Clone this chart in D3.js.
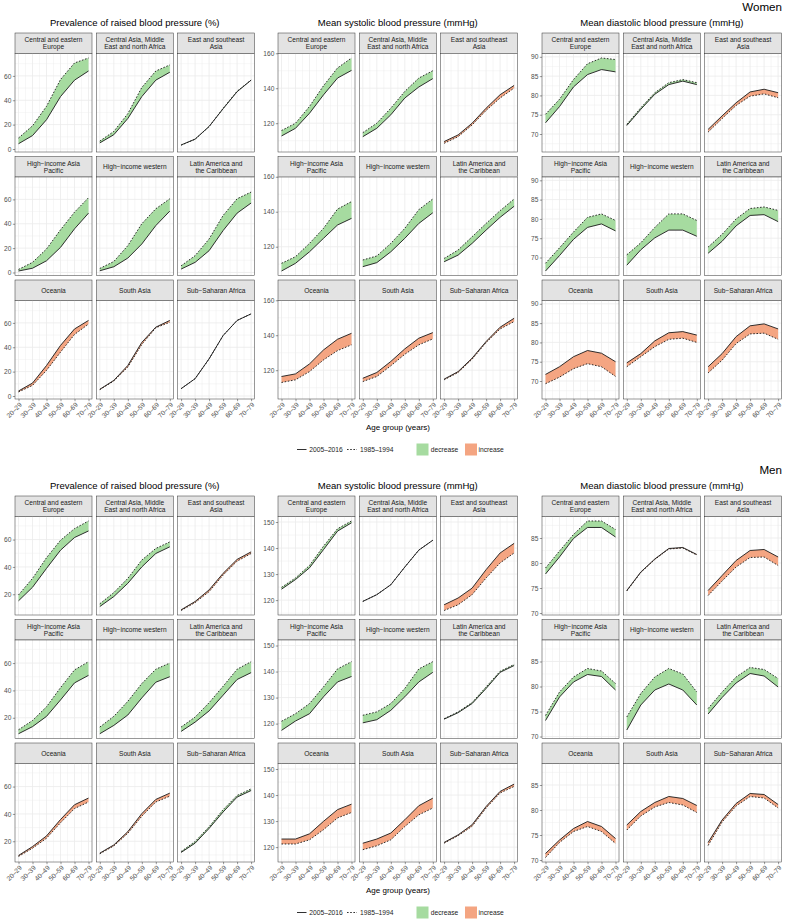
<!DOCTYPE html>
<html><head><meta charset="utf-8">
<script src="https://cdn.jsdelivr.net/npm/d3@7"></script>
<style>body{margin:0;background:#fff;} svg{display:block;font-family:"Liberation Sans",Arial,sans-serif;}</style>
</head><body><svg id="c" width="786" height="921"></svg>
<script>
const ageGroups = ["20–29","30–39","40–49","50–59","60–69","70–79"];
const regionLabels = [
  ["Central and eastern","Europe"],["Central Asia, Middle","East and north Africa"],["East and southeast","Asia"],
  ["High−income Asia","Pacific"],["High−income western"],["Latin America and","the Caribbean"],
  ["Oceania"],["South Asia"],["Sub−Saharan Africa"]];
const periodLabels = ["2005–2016","1985–1994"];
const changeLabels = ["decrease","increase"];
const measureTitles = ["Prevalence of raised blood pressure (%)","Mean systolic blood pressure (mmHg)","Mean diastolic blood pressure (mmHg)"];
const sexLabels = ["Women","Men"];

// Women
const womenPrevTicks = [0,20,40,60];
const womenPrevRecent = [
 [4.3,11,24,43,56.5,64],[5,11.7,25,43,56.5,63],[3.3,8.1,18.5,33,47,56.5],
 [1.2,3.5,9.6,20.6,35.8,48.7],[1.4,4.7,11.8,23.4,38.5,50.4],[2.8,8.3,17.9,34.4,48.7,57],
 [4.1,10.6,25,41.5,55,62],[5.5,12.8,25,44,56.5,62],[6,14.2,30.5,49.6,62,67.4]];
const womenPrevPast = [
 [9,19,35,57,70.6,74.7],[6.5,14.4,29,50.5,64,69],[3.1,8.0,18.3,33.4,47.4,56.6],
 [2.5,8.3,19.3,35,49.5,61.4],[3.3,9,22,40,52.3,60.5],[5.5,13.8,27.5,46.8,60.5,66],
 [3.3,8.7,21,36,50.5,59],[5.2,12.3,23.7,42.3,56,60.5],[6,14.2,30.5,49.6,62,67.4]];
const womenSysTicks = [120,140,160];
const womenSysRecent = [
 [112.7,117.1,125.7,136.2,145.8,150.2],[112.3,117.1,124.8,134.4,140.7,145.5],[109.5,113.3,120,128.6,136.3,141.6],
 [106.1,110.5,117.1,124.8,132.4,136.2],[108.6,110.9,117.1,124.8,133.3,139.4],[111.4,115.2,121.9,129.5,136.8,143.1],
 [116.4,117.9,123.6,131.6,137.7,141.1],[115.4,118.7,125,132.2,138.3,141.5],[114.9,119.2,126.9,136.4,144.6,149.7]];
const womenSysPast = [
 [115.8,120,129.6,141.4,151.6,157.3],[114.6,120,128.6,138.2,145.8,150],[108.5,112.3,119,127.3,134.4,140.1],
 [110.5,114.3,121.9,130.5,141.5,145.8],[112.4,114.7,121.9,130.5,141.2,147.3],[113.3,118.1,125.7,133.3,140.6,147.3],
 [113,114.5,119.2,125.9,131.2,134.5],[113.5,116.4,122.5,129.1,134.5,137.9],[114.5,118.7,126.3,135.8,143.6,147.8]];
const womenDiaTicks = [70,75,80,85,90];
const womenDiaRecent = [
 [72.9,77.1,82.2,85.4,86.7,86.1],[72.2,76.4,80.3,82.8,83.7,82.8],[71.2,74.7,78.1,80.9,81.6,80.7],
 [66.5,70.5,74.7,77.8,78.7,76.9],[68,72,75.1,77.1,77.1,75.5],[71.1,74.2,78.2,80.9,81.1,79.3],
 [71.7,73.7,76.3,77.9,77.2,75],[74.7,77.1,80.4,82.5,82.8,81.9],[73.7,77.1,81.5,84.3,84.8,83.5]];
const womenDiaPast = [
 [75.1,79,84.1,88.2,89.7,89.3],[72.5,76.8,80.7,83.3,84.1,83.3],[70.5,74,77.4,79.8,80.4,79.4],
 [68.5,72.5,76.6,80.4,81.3,79.6],[70.7,73.8,77.8,81.3,81.3,79.6],[72.7,76,80,82.7,83.1,82.2],
 [69.3,71,73.2,74.5,73.7,71.2],[73.7,76.3,78.9,80.8,81.1,80],[72.1,75.4,79.7,82.2,82.4,80.8]];

// Men
const menPrevTicks = [20,40,60];
const menPrevRecent = [
 [15.2,25.1,38.9,52.2,61.5,66.3],[11,18.3,28,40,49.8,54.7],[8.6,14.7,23.2,35.3,45.5,51],
 [8.3,13.5,21,33,45.5,51],[8.3,14.4,22,34.5,46,50],[10,16.8,25,36.5,48,53],
 [9.6,16.1,23.9,35.9,46.7,51.6],[11.3,17.3,27,40.2,50.6,55.2],[11.8,18.6,29.4,41.4,52.3,57.1]];
const menPrevPast = [
 [19.5,31.6,46.7,59.5,68,73.6],[13,21.2,31.6,45,53.5,58.3],[8.1,13.9,21.9,34,44.2,49.8],
 [11.2,18,28,42,55,61],[13.2,21,32,45,55.5,60],[13.2,20.5,31,43,55.5,61],
 [8.9,14.9,22.2,33.5,43.9,48.7],[10.8,16.6,25.8,38.3,48.7,53],[12.5,19.8,30.6,43.1,53.5,58.3]];
const menSysTicks = [120,130,140,150];
const menSysRecent = [
 [124.2,127.9,132.4,139.4,146.5,149.7],[119.5,122.1,125.9,132.7,139.2,143],[118.2,120.8,124.6,131.7,138.1,141.8],
 [117.4,121,123.8,130.3,136,138.1],[120.3,121.5,125.1,130.3,136,139.7],[121.7,124.2,127.7,133.5,139.7,142.3],
 [123.1,123.1,125.1,129.9,134.4,136.5],[121.5,123.1,125.4,130.5,135.9,138.8],[121.8,124.7,128.6,135.6,141.4,144.2]];
const menSysPast = [
 [124.9,128.5,133.3,140.7,147.4,150.4],[119.5,122.1,125.9,132.7,139.2,143],[116,118.2,122.1,128.5,134.3,138.1],
 [120.9,123.8,127.7,134.1,141,143.8],[123.2,124.5,127.7,133.5,141,143.8],[121.9,124.5,128.1,134.1,140.1,142.7],
 [121.2,121.2,122.8,126.7,131.2,133.3],[119,120.5,122.8,127.9,132.4,135],[121.5,124.4,128,135,140.8,143.3]];
const menDiaTicks = [70,75,80,85];
const menDiaRecent = [
 [77.8,81.2,84.9,87.1,87.1,85.2],[74.5,78.2,80.8,82.9,83.1,81.7],[74.5,77.5,80.5,82.5,82.7,81.2],
 [73.2,77.9,80.9,82.4,82,79.3],[71.3,76.3,79.3,80.5,79.3,76.3],[74.5,77.8,80.7,82.6,82.1,79.9],
 [71.3,74,76.3,77.7,76.7,74.3],[77,79.7,81.5,82.7,82.3,80.9],[73.5,78,81.3,83.3,83.1,81.1]];
const menDiaPast = [
 [79,82.4,85.7,88.4,88.4,86.7],[74.4,78.1,80.7,82.8,83,81.6],[73.5,76.4,79.2,81.1,81.2,79.5],
 [74.2,78.9,81.9,83.6,83.1,80.6],[73.9,78.6,81.9,83.6,82.5,78.9],[75.6,78.9,81.9,83.8,83.4,81.6],
 [70.5,73.5,75.7,76.7,75.7,73.3],[76,78.8,80.6,81.5,81,79.5],[72.9,77.6,80.8,82.7,82.4,80.4]];

const fillColors = {decrease:"#A6DBA0", increase:"#F4A582"};

const halves = [
  {sex:sexLabels[0], dy:0, measures:[
    {recent:womenPrevRecent, past:womenPrevPast, ticks:womenPrevTicks},
    {recent:womenSysRecent, past:womenSysPast, ticks:womenSysTicks},
    {recent:womenDiaRecent, past:womenDiaPast, ticks:womenDiaTicks}]},
  {sex:sexLabels[1], dy:463, measures:[
    {recent:menPrevRecent, past:menPrevPast, ticks:menPrevTicks},
    {recent:menSysRecent, past:menSysPast, ticks:menSysTicks},
    {recent:menDiaRecent, past:menDiaPast, ticks:menDiaTicks}]}
];

const svg = d3.select("#c");
const groupLeft = [15, 278, 542];
const panelW = 77, gapX = 4.3;
const stripTop0 = 33, stripH = 20.5, panelH = 98.5, rowStep = 123.5;
const tickCol = "#4d4d4d", borderCol = "#333333", gridCol = "#ebebeb";

const x = d3.scaleLinear().domain([-0.25, 5.25]).range([0, panelW]);

halves.forEach(h => {
  const g0 = svg.append("g").attr("transform", `translate(0,${h.dy})`);
  g0.append("text").attr("x", 782).attr("y", 10.5).attr("text-anchor","end")
    .attr("font-size", 11.6).attr("fill","#000").text(h.sex);

  h.measures.forEach((m, mi) => {
    const all = m.recent.flat().concat(m.past.flat());
    const ext = d3.extent(all);
    const pad = (ext[1]-ext[0])*0.05;
    const y = d3.scaleLinear().domain([ext[0]-pad, ext[1]+pad]).range([panelH, 0]);
    const step = m.ticks[1]-m.ticks[0];
    const minor = [];
    for (let v = m.ticks[0]-step/2; v <= ext[1]+pad; v += step) if (v >= ext[0]-pad) minor.push(v);

    const gl = groupLeft[mi];
    const gm = g0.append("g");
    gm.append("text").attr("x", gl + (3*panelW+2*gapX)/2).attr("y", 26)
      .attr("text-anchor","middle").attr("font-size", 9.5).attr("fill","#000").text(measureTitles[mi]);

    for (let r = 0; r < 9; r++) {
      const col = r % 3, row = Math.floor(r/3);
      const px = gl + col*(panelW+gapX);
      const sy = stripTop0 + row*rowStep;
      const py = sy + stripH;
      // strip
      gm.append("rect").attr("x", px).attr("y", sy).attr("width", panelW).attr("height", stripH)
        .attr("fill","#e3e3e3").attr("stroke", borderCol).attr("stroke-width",0.5);
      const lines = regionLabels[r];
      const lh = 7;
      lines.forEach((t, li) => {
        gm.append("text").attr("x", px+panelW/2)
          .attr("y", sy + stripH/2 + 2.3 + (li - (lines.length-1)/2)*lh)
          .attr("text-anchor","middle").attr("font-size",6.6).attr("fill","#1a1a1a").text(t);
      });
      const p = gm.append("g").attr("transform", `translate(${px},${py})`);
      p.append("rect").attr("width", panelW).attr("height", panelH).attr("fill","#fff");
      // grid
      p.selectAll(".ymin").data(minor).enter().append("line")
        .attr("x1",0).attr("x2",panelW).attr("y1",d=>y(d)).attr("y2",d=>y(d))
        .attr("stroke",gridCol).attr("stroke-width",0.4);
      p.selectAll(".xmin").data([0.5,1.5,2.5,3.5,4.5]).enter().append("line")
        .attr("y1",0).attr("y2",panelH).attr("x1",d=>x(d)).attr("x2",d=>x(d))
        .attr("stroke",gridCol).attr("stroke-width",0.4);
      p.selectAll(".ymaj").data(m.ticks).enter().append("line")
        .attr("x1",0).attr("x2",panelW).attr("y1",d=>y(d)).attr("y2",d=>y(d))
        .attr("stroke",gridCol).attr("stroke-width",0.8);
      p.selectAll(".xmaj").data(d3.range(6)).enter().append("line")
        .attr("y1",0).attr("y2",panelH).attr("x1",d=>x(d)).attr("x2",d=>x(d))
        .attr("stroke",gridCol).attr("stroke-width",0.8);
      // ribbon
      const rec = m.recent[r], pst = m.past[r];
      const diff = d3.sum(rec.map((v,i)=>v - pst[i]));
      const fill = diff < 0 ? fillColors.decrease : fillColors.increase;
      const area = d3.area().x((d,i)=>x(i)).y0(d=>y(d[1])).y1(d=>y(d[0]));
      p.append("path").datum(rec.map((v,i)=>[v,pst[i]])).attr("d", area).attr("fill", fill);
      const line = d3.line().x((d,i)=>x(i)).y(d=>y(d));
      p.append("path").datum(pst).attr("d", line).attr("fill","none").attr("stroke","#1a1a1a")
        .attr("stroke-width",0.9).attr("stroke-dasharray","1.6,1.6");
      p.append("path").datum(rec).attr("d", line).attr("fill","none").attr("stroke","#1a1a1a")
        .attr("stroke-width",0.9);
      p.append("rect").attr("width", panelW).attr("height", panelH).attr("fill","none")
        .attr("stroke", borderCol).attr("stroke-width",0.5);
      // axes
      if (col === 0) {
        const ax = p.append("g").call(d3.axisLeft(y).tickValues(m.ticks).tickSize(2.2).tickPadding(1.5));
        ax.select(".domain").remove();
        ax.selectAll("line").attr("stroke", borderCol).attr("stroke-width",0.5);
        ax.selectAll("text").attr("font-size",6.6).attr("fill",tickCol).attr("font-family","Liberation Sans, Arial, sans-serif");
      }
      if (row === 2) {
        const ax = p.append("g").attr("transform",`translate(0,${panelH})`)
          .call(d3.axisBottom(x).tickValues(d3.range(6)).tickFormat(i=>ageGroups[i]).tickSize(2.2));
        ax.select(".domain").remove();
        ax.selectAll("line").attr("stroke", borderCol).attr("stroke-width",0.5);
        ax.selectAll("text").attr("font-size",6.6).attr("fill",tickCol).attr("font-family","Liberation Sans, Arial, sans-serif")
          .attr("text-anchor","end").attr("dy",null).attr("y",0)
          .attr("transform","translate(1.5,4.5) rotate(-45)").attr("dominant-baseline","central");
      }
    }
  });

  // axis title
  g0.append("text").attr("x", 398).attr("y", 430).attr("text-anchor","middle")
    .attr("font-size",8).attr("fill","#000").text("Age group (years)");

  // legend
  const ly = 449.5;
  const lg = g0.append("g");
  lg.append("line").attr("x1",297).attr("x2",306.5).attr("y1",ly).attr("y2",ly).attr("stroke","#1a1a1a").attr("stroke-width",0.9);
  lg.append("text").attr("x",309.3).attr("y",ly+2.3).attr("font-size",6.7).attr("fill","#1a1a1a").text(periodLabels[0]);
  lg.append("line").attr("x1",347).attr("x2",357).attr("y1",ly).attr("y2",ly).attr("stroke","#1a1a1a").attr("stroke-width",0.9).attr("stroke-dasharray","1.6,1.6");
  lg.append("text").attr("x",360).attr("y",ly+2.3).attr("font-size",6.7).attr("fill","#1a1a1a").text(periodLabels[1]);
  lg.append("rect").attr("x",416.5).attr("y",ly-6).attr("width",12).attr("height",12).attr("fill",fillColors.decrease);
  lg.append("text").attr("x",430.7).attr("y",ly+2.3).attr("font-size",6.7).attr("fill","#1a1a1a").text(changeLabels[0]);
  lg.append("rect").attr("x",465).attr("y",ly-6).attr("width",12).attr("height",12).attr("fill",fillColors.increase);
  lg.append("text").attr("x",478.5).attr("y",ly+2.3).attr("font-size",6.7).attr("fill","#1a1a1a").text(changeLabels[1]);
});
</script></body></html>
